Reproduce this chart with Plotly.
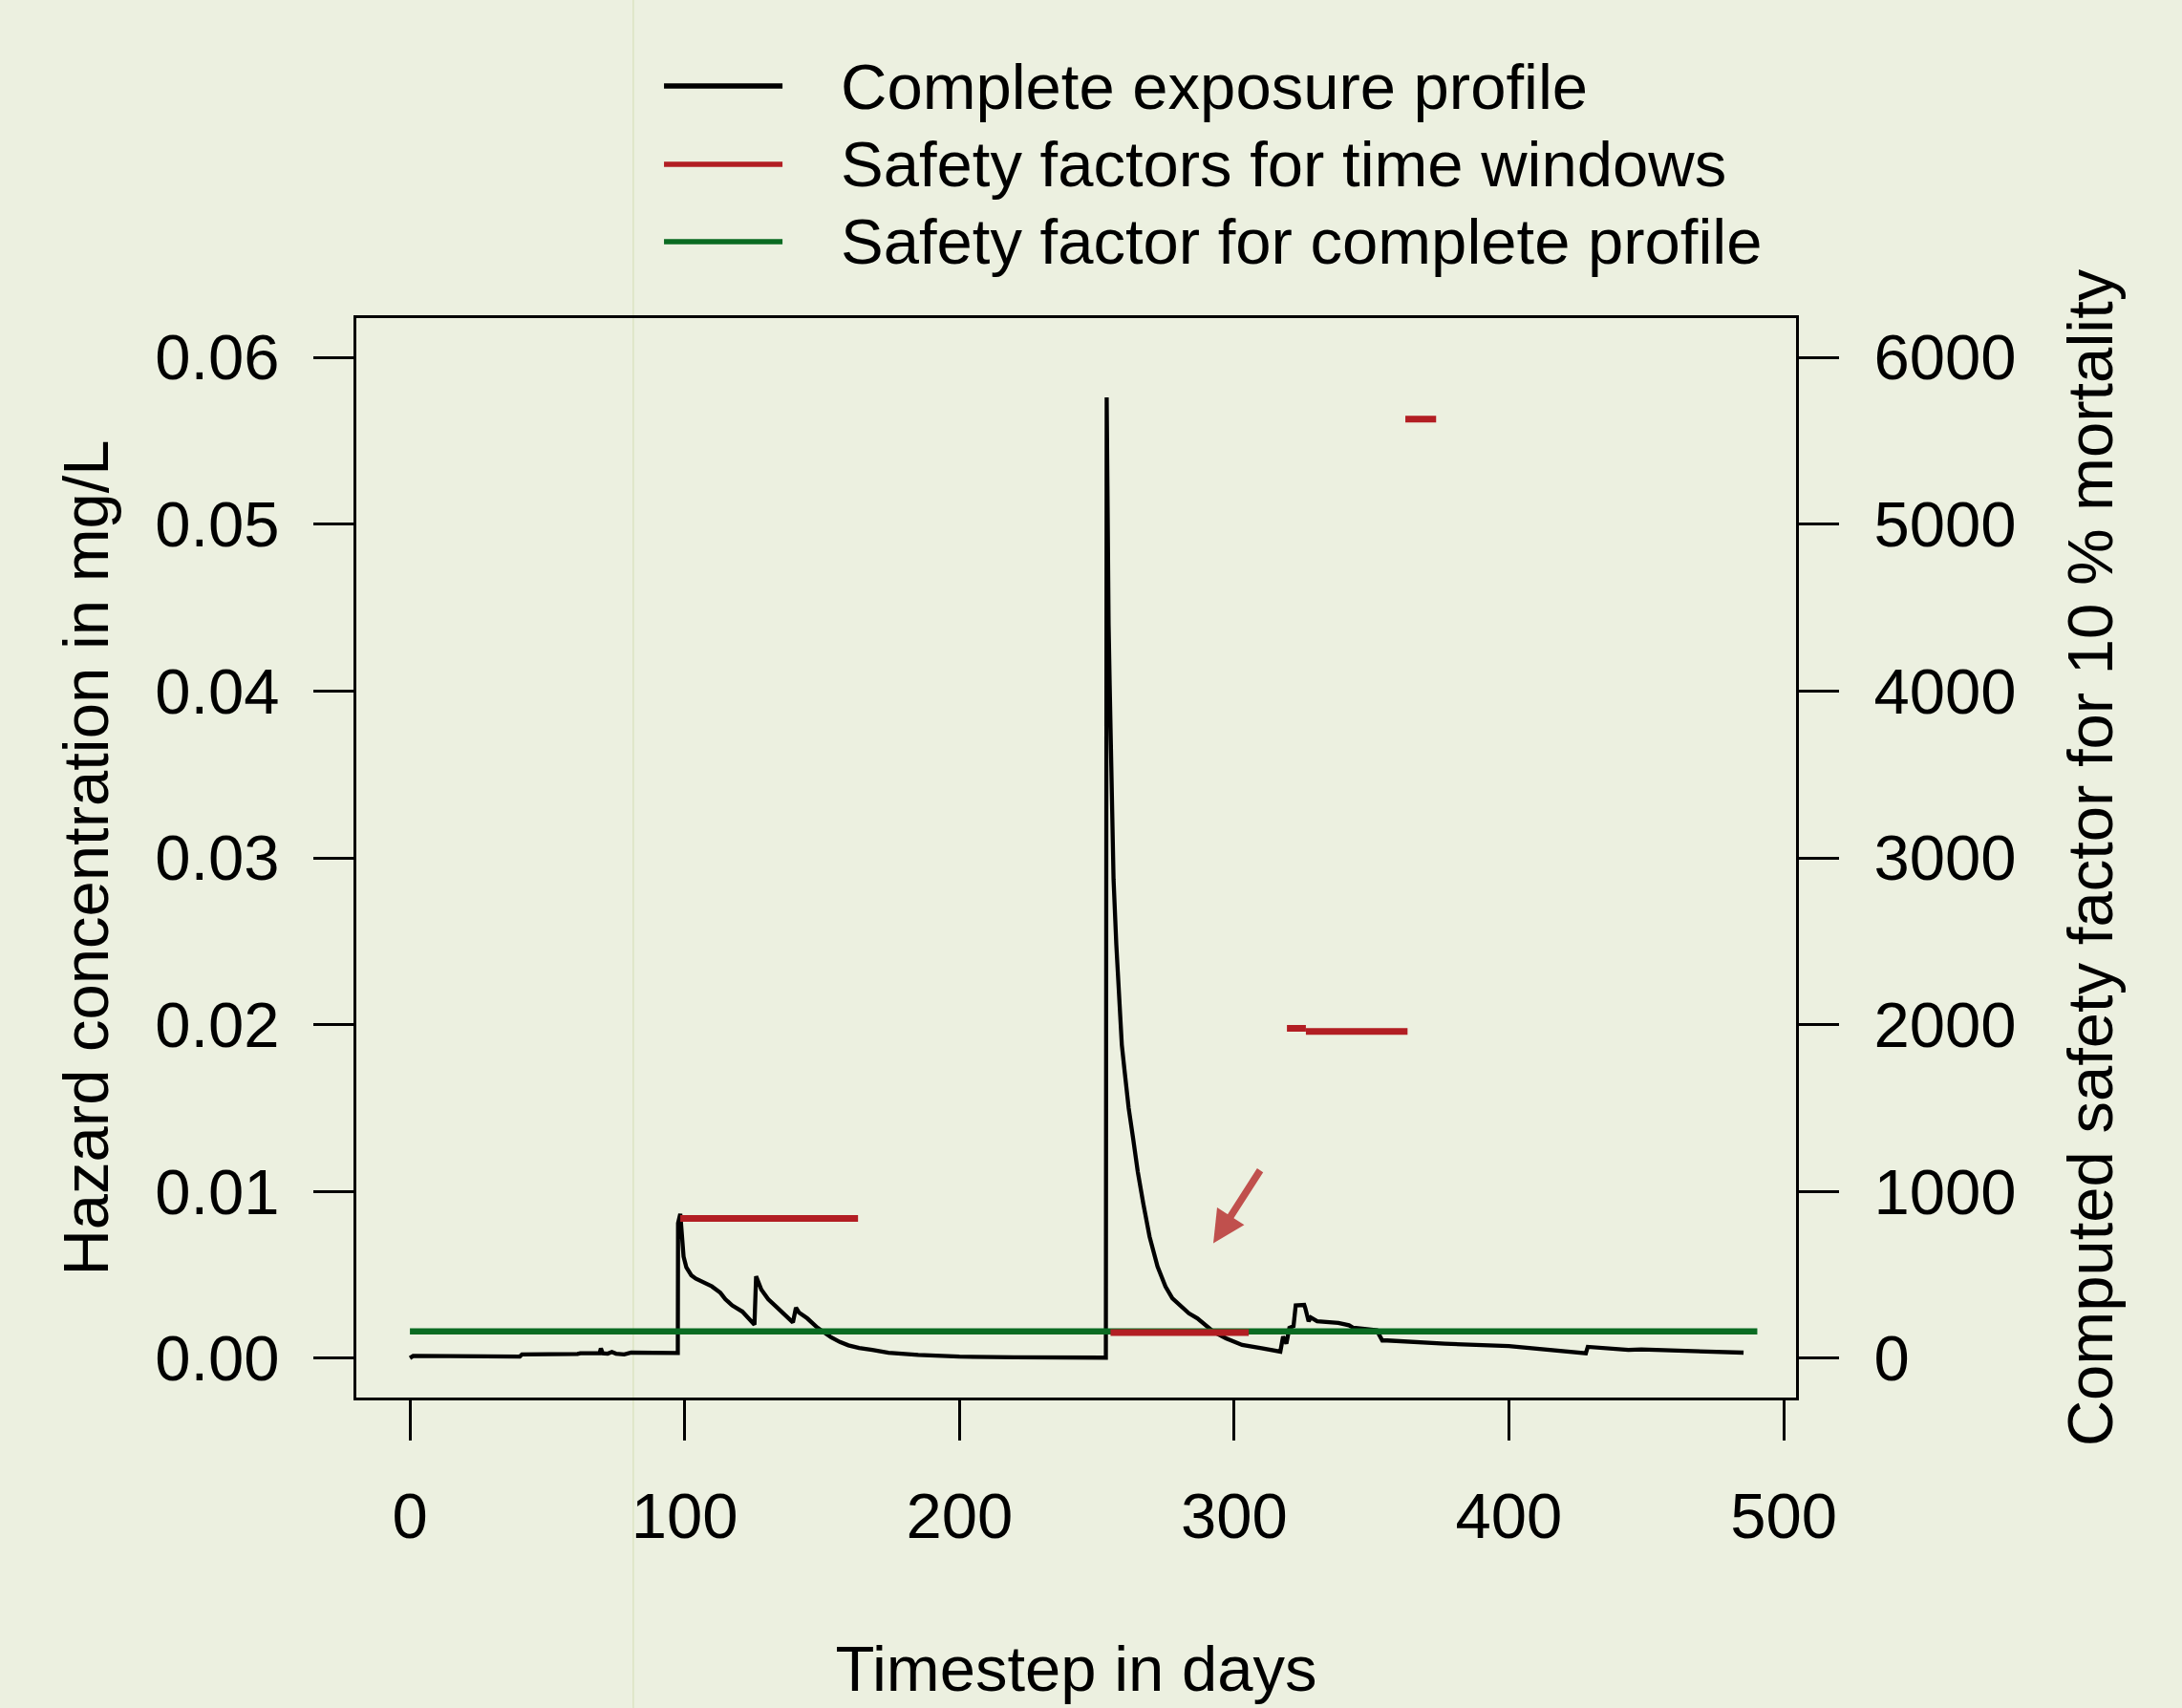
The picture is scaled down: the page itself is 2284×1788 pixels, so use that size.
import plotly.graph_objects as go

# ---- data ----
days = [0, 1.2, 40, 40.8, 61, 62, 69, 69.5, 70.2, 72, 73.5, 75, 78, 80.5, 97.5,
        97.6, 98.4, 98.9, 99.6, 100.6, 102.4, 104.0, 106.2, 109.9, 113.0, 114.8, 117.3, 121.0, 125.4,
        126.0, 127.9, 130.4, 133.5, 137.2, 139.4, 140.5, 141.6, 144.6, 148.4, 153.3,
        156.5, 159.6, 163.5, 168.3, 174.2, 185, 200, 220, 253.3,
        253.6, 253.8, 254.0, 254.3, 254.7, 255.3, 256.1, 257.1, 258.2, 259.1, 260.2, 261.6, 263.2,
        264.9, 266.9, 269.2, 272.1, 275.0, 277.5, 280.8, 283.5, 286.6, 289.3, 292.4, 297.0,
        302.9, 310, 316.8,
        317.8, 319.0, 320.1, 321.6, 322.4, 324.0, 325.5, 325.9, 327.1, 327.9, 329.4,
        330.2, 337.9, 341.8, 343.4, 351.9, 353.9, 355.7, 376.7, 400.0, 428.0, 428.7,
        443.5, 448.2, 485.4]
conc = [0.00002, 0.00015, 0.00011, 0.00024, 0.00026, 0.00030, 0.00030, 0.00059, 0.00030, 0.00028, 0.00038, 0.00028, 0.00024, 0.00034, 0.00032,
        0.0081, 0.00866, 0.0072, 0.0061, 0.00546, 0.00498, 0.00478, 0.0046, 0.00431, 0.00393, 0.00355, 0.00317, 0.0028, 0.00202,
        0.00492, 0.00412, 0.00355, 0.00307, 0.0025, 0.00215, 0.00303, 0.00275, 0.0024, 0.00183, 0.00126,
        0.00098, 0.00078, 0.00062, 0.0005, 0.00034, 0.0002, 0.0001, 0.00006, 0.00004,
        0.0576, 0.0525, 0.0480, 0.0440, 0.0403, 0.0345, 0.0287, 0.0248, 0.0209, 0.0188, 0.0171, 0.0150, 0.0132,
        0.0112, 0.0093, 0.0073, 0.0055, 0.0043, 0.0036, 0.0031, 0.0027, 0.0024, 0.0020, 0.0016, 0.0012,
        0.0008, 0.0006, 0.0004,
        0.0013, 0.00088, 0.00183, 0.00193, 0.00317, 0.0032, 0.0032, 0.0030, 0.00222, 0.00245, 0.00231,
        0.00222, 0.00212, 0.00198, 0.00183, 0.00168, 0.00107, 0.00107, 0.00088, 0.00073, 0.0003, 0.00069,
        0.0005, 0.00053, 0.00034]

window_start = [98.4, 255.0, 319.2, 326.1, 362.3]
window_end = [163.1, 305.3, 326.1, 363.1, 373.5]
window_sf = [838, 155, 1978, 1960, 5630]

profile_start = 0
profile_end = 490.4
profile_sf = 162

x_ticks = [0, 100, 200, 300, 400, 500]
y_ticks = [0.00, 0.01, 0.02, 0.03, 0.04, 0.05, 0.06]
y_ticklabels = ["0.00", "0.01", "0.02", "0.03", "0.04", "0.05", "0.06"]
y2_ticks = [0, 1000, 2000, 3000, 4000, 5000, 6000]

legend_labels = ["Complete exposure profile", "Safety factors for time windows",
                 "Safety factor for complete profile"]

BG = "#ECF0E0"
RED = "#B21E23"
GREEN = "#0A6B22"
FONT = "Liberation Sans, Arial, Helvetica, sans-serif"
FS = 67
legend_colors = ["black", RED, GREEN]

# red windows as one trace with gaps
rx, ry = [], []
for s, e, v in zip(window_start, window_end, window_sf):
    rx += [s, e, None]
    ry += [v, v, None]

fig = go.Figure()
fig.add_trace(go.Scatter(x=days, y=conc, mode="lines", name=legend_labels[0],
                         line=dict(color="black", width=4.3)))
fig.add_trace(go.Scatter(x=[profile_start, profile_end], y=[profile_sf, profile_sf], mode="lines",
                         name=legend_labels[2], yaxis="y2",
                         line=dict(color=GREEN, width=6.5)))
fig.add_trace(go.Scatter(x=rx, y=ry, mode="lines", name=legend_labels[1],
                         yaxis="y2", connectgaps=False,
                         line=dict(color=RED, width=7)))

axis_common = dict(showline=True, linecolor="black", linewidth=3, ticks="outside",
                   ticklen=42, tickwidth=3, tickcolor="black", showgrid=False, zeroline=False,
                   tickfont=dict(family=FONT, size=FS, color="black"))

fig.update_layout(
    width=2284, height=1788,
    margin=dict(l=373, r=404, t=333, b=325),
    paper_bgcolor=BG, plot_bgcolor=BG,
    font=dict(family=FONT, size=FS, color="black"),
    showlegend=False,
    xaxis=dict(range=[-19.5, 504.5], tickvals=x_ticks, mirror=True, ticklabelstandoff=22,
               title=dict(text="Timestep in days", font=dict(family=FONT, size=FS), standoff=100),
               **axis_common),
    yaxis=dict(range=[-0.00235, 0.06235], tickvals=y_ticks, ticktext=y_ticklabels, mirror=True,
               ticklabelstandoff=22,
               title=dict(text="Hazard concentration in mg/L", font=dict(family=FONT, size=FS), standoff=27),
               **axis_common),
    yaxis2=dict(range=[-235, 6235], tickvals=y2_ticks, overlaying="y", side="right",
                ticklabelstandoff=23,
                title=dict(text="Computed safety factor for 10 % mortality", font=dict(family=FONT, size=FS), standoff=55),
                **axis_common),
)

# faint vertical artifact line spanning the whole image
fig.add_shape(type="line", xref="paper", yref="paper", x0=0.1924, x1=0.1924, y0=-0.2876, y1=1.2947,
              line=dict(color="#D3DDB3", width=1), layer="below")

# legend (R-style, drawn above the plot box)
legend_rows_y = [1.2150, 1.1425, 1.0708]
for lab, col, yy in zip(legend_labels, legend_colors, legend_rows_y):
    fig.add_shape(type="line", xref="paper", yref="paper", x0=0.2137, x1=0.2960, y0=yy, y1=yy,
                  line=dict(color=col, width=5.5))
    fig.add_annotation(x=0.3351, y=yy, xref="paper", yref="paper", text=lab, showarrow=False,
                       xanchor="left", yanchor="middle",
                       font=dict(family=FONT, size=FS, color="black"))

# arrow annotation pointing to the low window
fig.add_annotation(x=292.4, y=0.00689, xref="x", yref="y", ax=50, ay=-78, text="",
                   showarrow=True, arrowhead=2, arrowsize=0.9, arrowwidth=7.5, arrowcolor="#C0504D",
                   standoff=0)

fig.write_html("out.html", config={"displayModeBar": False},
               post_script="document.body.style.margin='0';")
